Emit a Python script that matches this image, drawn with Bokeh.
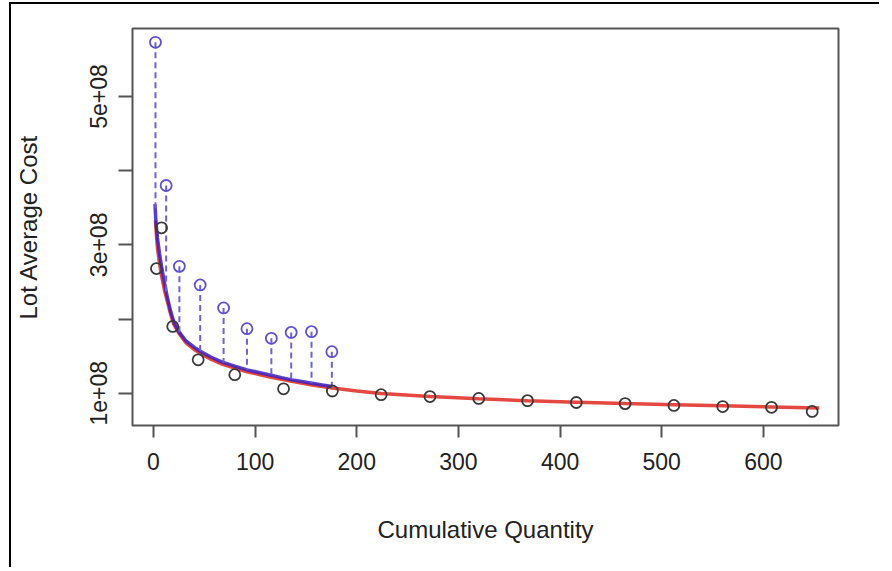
from bokeh.plotting import figure
from bokeh.models import Range1d, FixedTicker
from bokeh.embed import file_html
from bokeh.resources import INLINE

# ---- data ----
black_x = [3, 8, 19, 44, 80, 128, 176, 224, 272, 320, 368, 416, 464, 512, 560, 608, 648]
black_y = [2.68e8, 3.23e8, 1.90e8, 1.45e8, 1.25e8, 1.06e8, 1.03e8, 0.98e8, 0.955e8,
           0.93e8, 0.90e8, 0.875e8, 0.86e8, 0.835e8, 0.82e8, 0.81e8, 0.755e8]

blue_x = [2, 12.5, 25.5, 46, 69, 92, 116, 135.5, 155.5, 175.5]
blue_y = [5.73e8, 3.80e8, 2.71e8, 2.46e8, 2.15e8, 1.87e8, 1.74e8, 1.82e8, 1.83e8, 1.56e8]
blue_fit = [3.45e8, 2.35e8, 1.82e8, 1.57e8, 1.415e8, 1.315e8, 1.24e8, 1.185e8, 1.135e8, 1.09e8]

blue_curve_x = [1.5, 2.5, 3.9, 6, 8.1, 11, 13.7, 17, 20.3, 25, 31.7, 40, 48, 57, 67.7, 80,
                92.2, 105, 116.7, 126, 136.3, 146, 156, 166, 175.6]
blue_curve_y = [3.55e8, 3.30e8, 3.10e8, 2.88e8, 2.70e8, 2.48e8, 2.29e8, 2.10e8, 1.95e8, 1.83e8,
                1.71e8, 1.62e8, 1.55e8, 1.485e8, 1.42e8, 1.365e8, 1.315e8, 1.275e8, 1.24e8,
                1.21e8, 1.18e8, 1.157e8, 1.135e8, 1.112e8, 1.09e8]

red_curve_x = [2, 3, 4, 6, 8, 11, 14, 17, 20, 25, 32, 40, 48, 57, 68, 80, 92, 105, 117, 136,
               156, 176, 200, 224, 248, 272, 320, 368, 416, 464, 512, 560, 608, 655]
red_curve_y = [3.33e8, 3.12e8, 2.95e8, 2.75e8, 2.58e8, 2.38e8, 2.22e8, 2.06e8, 1.93e8, 1.81e8,
               1.68e8, 1.59e8, 1.52e8, 1.455e8, 1.39e8, 1.34e8, 1.29e8, 1.25e8, 1.21e8, 1.16e8,
               1.11e8, 1.07e8, 1.03e8, 0.995e8, 0.975e8, 0.955e8, 0.925e8, 0.90e8, 0.88e8,
               0.86e8, 0.845e8, 0.83e8, 0.815e8, 0.80e8]

x_ticks = [0, 100, 200, 300, 400, 500, 600]
y_ticks = [1e8, 2e8, 3e8, 4e8, 5e8]
y_tick_labels = {1e8: "1e+08", 2e8: "", 3e8: "3e+08", 4e8: "", 5e8: "5e+08"}

FONT = "Liberation Sans"
W, H = 870, 565

p = figure(width=W, height=H, output_backend="svg", toolbar_location=None,
           x_range=Range1d(-20.6, 673.9), y_range=Range1d(0.565e8, 5.916e8),
           min_border_left=119, min_border_right=43, min_border_top=24, min_border_bottom=144,
           margin=(2, 0, 0, 9),
           styles={"border-top": "2px solid black", "border-left": "2px solid black"})
p.background_fill_color = "white"
p.border_fill_color = "white"
p.grid.visible = False
p.outline_line_color = "#555555"
p.outline_line_width = 2

# axes
for ax in (p.xaxis[0], p.yaxis[0]):
    ax.axis_line_color = None
    ax.major_tick_line_color = "#555555"
    ax.major_tick_line_width = 2
    ax.major_tick_in = 0
    ax.minor_tick_line_color = None
    ax.major_label_text_font = FONT
    ax.major_label_text_font_size = "23px"
    ax.major_label_text_color = "#222222"
    ax.axis_label_text_font = FONT
    ax.axis_label_text_font_size = "24px"
    ax.axis_label_text_font_style = "normal"
    ax.axis_label_text_color = "#222222"

p.xaxis[0].ticker = FixedTicker(ticks=x_ticks)
p.xaxis[0].major_tick_out = 12
p.xaxis[0].major_label_standoff = 15
p.xaxis[0].axis_label = "Cumulative Quantity"
p.xaxis[0].axis_label_standoff = 43

p.yaxis[0].ticker = FixedTicker(ticks=y_ticks)
p.yaxis[0].major_label_overrides = y_tick_labels
p.yaxis[0].major_label_orientation = "vertical"
p.yaxis[0].major_tick_out = 14
p.yaxis[0].major_label_standoff = 11
p.yaxis[0].axis_label = "Lot Average Cost"
p.yaxis[0].axis_label_standoff = 46

# curves
p.line(red_curve_x, red_curve_y, line_color="#e2342c", line_width=3.5, line_alpha=0.9)
p.line(blue_curve_x, blue_curve_y, line_color="#3a1fbf", line_width=3.5, line_alpha=0.85)

# residual dashes
p.segment(x0=blue_x, y0=blue_y, x1=blue_x, y1=blue_fit, line_color="#6e64d0",
          line_width=2, line_dash="6 4")

# points
p.scatter(black_x, black_y, marker="circle", size=11, fill_color=None,
          line_color="#3a3a3a", line_width=1.8)
p.scatter(blue_x, blue_y, marker="circle", size=11, fill_color=None,
          line_color="#5e52d0", line_width=1.8)

open("out.html", "w").write(file_html(p, INLINE))
